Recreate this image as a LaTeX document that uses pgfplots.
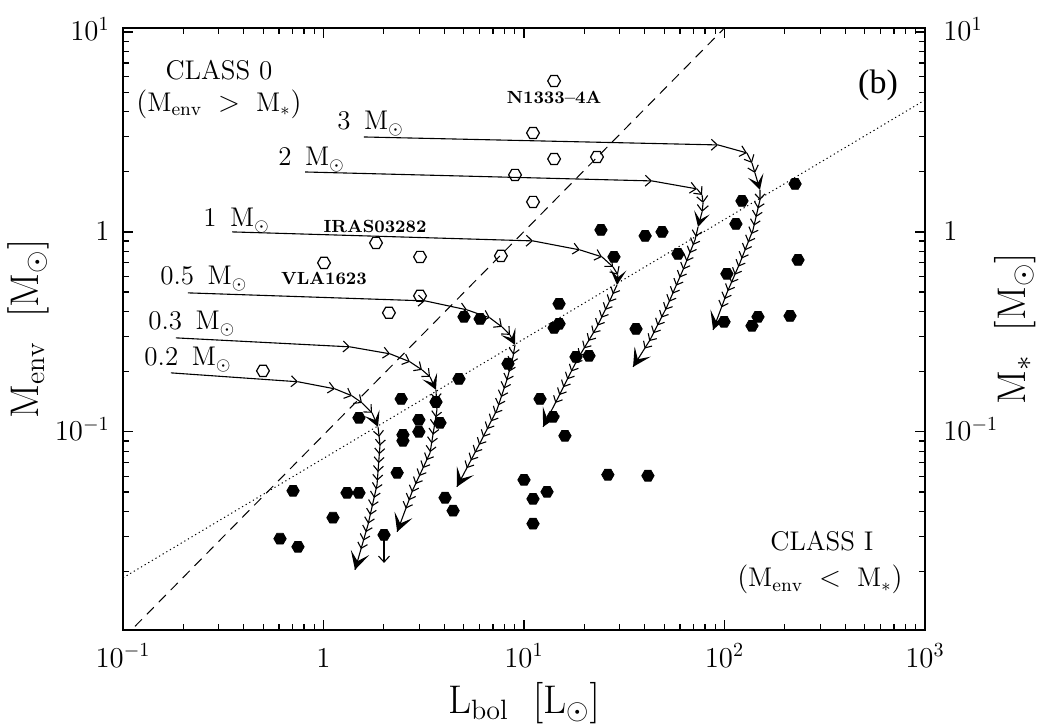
\documentclass[border=0pt]{standalone}
\usepackage{fontspec}
\usepackage{pgfplots}
\pgfplotsset{compat=1.18}
\usetikzlibrary{arrows.meta,decorations.markings}
\newfontfamily\tnr{Liberation Serif}
\newcommand\lab{\fontsize{13.5}{16}\selectfont}
\newcommand\srcfont{\fontsize{8.8}{10}\selectfont\bfseries}

\pgfdeclareplotmark{hexo}{%
 \pgfpathmoveto{\pgfpointpolar{0}{\pgfplotmarksize}}%
 \pgfpathlineto{\pgfpointpolar{60}{\pgfplotmarksize}}%
 \pgfpathlineto{\pgfpointpolar{120}{\pgfplotmarksize}}%
 \pgfpathlineto{\pgfpointpolar{180}{\pgfplotmarksize}}%
 \pgfpathlineto{\pgfpointpolar{240}{\pgfplotmarksize}}%
 \pgfpathlineto{\pgfpointpolar{300}{\pgfplotmarksize}}%
 \pgfpathclose\pgfusepathqstroke}
\pgfdeclareplotmark{hexf}{%
 \pgfpathmoveto{\pgfpointpolar{0}{\pgfplotmarksize}}%
 \pgfpathlineto{\pgfpointpolar{60}{\pgfplotmarksize}}%
 \pgfpathlineto{\pgfpointpolar{120}{\pgfplotmarksize}}%
 \pgfpathlineto{\pgfpointpolar{180}{\pgfplotmarksize}}%
 \pgfpathlineto{\pgfpointpolar{240}{\pgfplotmarksize}}%
 \pgfpathlineto{\pgfpointpolar{300}{\pgfplotmarksize}}%
 \pgfpathclose\pgfusepathqfillstroke}

\tikzset{
 trk/.style={line width=0.55pt, black},
 seg/.style={trk, -{Straight Barb[length=3pt,width=5.5pt]}},
 big/.style={trk, -{Stealth[length=7.5pt,width=8pt,inset=3.8pt]}},
 chev/.style={trk,
   postaction={decorate},
   decoration={markings,
     mark=between positions 5pt and -10pt step 4.4pt with {\arrow{Straight Barb[length=2.6pt,width=5pt]}},
     mark=at position 1 with {\arrow{Stealth[length=9pt,width=9.5pt,inset=4.5pt]}}}},
}

\begin{document}
\begin{tikzpicture}
\useasboundingbox (-61.5pt,-47.5pt) rectangle (460.5pt,315pt);
\begin{axis}[
 at={(0,0)}, anchor=south west,
 width=401pt, height=301pt, scale only axis,
 xmode=log, ymode=log,
 xmin=0.1, xmax=1000, ymin=0.0102, ymax=10.47,
 xtick={0.1,1,10,100,1000},
 xticklabels={$10^{-1}$,$1$,$10^{1}$,$10^{2}$,$10^{3}$},
 ytick={0.1,1,10},
 yticklabels={$10^{-1}$,$1$,$10^{1}$},
 minor xtick={0.2,0.3,0.4,0.5,0.6,0.7,0.8,0.9,2,3,4,5,6,7,8,9,20,30,40,50,60,70,80,90,200,300,400,500,600,700,800,900},
 minor ytick={0.02,0.03,0.04,0.05,0.06,0.07,0.08,0.09,0.2,0.3,0.4,0.5,0.6,0.7,0.8,0.9,2,3,4,5,6,7,8,9},
 major tick length=5pt, minor tick length=3pt,
 tick style={line width=0.6pt, black},
 axis line style={line width=0.7pt},
 tick label style={font=\fontsize{14}{16}\selectfont},
 xticklabel style={anchor=base, yshift=-18.5pt, inner sep=0pt},
 yticklabel style={anchor=base east, yshift=-4.5pt, xshift=-6.5pt, inner sep=0pt},
 label style={font=\fontsize{20}{23}\selectfont},
 xlabel={$\mathrm{L_{bol}}\ \ [\mathrm{L}_\odot]$},
 xlabel style={at={(axis description cs:0.5,-0.139)}, anchor=base},
 ylabel={$\mathrm{M_{env}}\ \ [\mathrm{M}_\odot]$},
 ylabel style={at={(axis description cs:-0.1185,0.5)}, anchor=center},
]
% reference lines
\addplot[black, line width=0.5pt, dash pattern=on 5pt off 3.5pt] coordinates {(0.1,0.00925) (200,21.2)};
\addplot[black, line width=0.5pt, dash pattern=on 0.6pt off 1.5pt] coordinates {(0.1,0.0186) (1000,4.57)};

% track 0.2
\addplot[seg] coordinates {(0.1734,0.1972) (0.746,0.178)};
\addplot[seg] coordinates {(0.746,0.178) (1.141,0.164)};
\addplot[seg] coordinates {(1.141,0.164) (1.387,0.1514)};
\addplot[seg] coordinates {(1.387,0.1514) (1.556,0.1396)};
\addplot[seg] coordinates {(1.556,0.1396) (1.746,0.1245)};
\addplot[big] coordinates {(1.746,0.1245) (1.871,0.1059)};
\addplot[chev] coordinates {(1.871,0.1059) (1.914,0.0861) (1.849,0.0543) (1.667,0.0343) (1.436,0.0204)};
% track 0.3
\addplot[seg] coordinates {(0.1837,0.2951) (1.355,0.2661)};
\addplot[seg] coordinates {(1.355,0.2661) (2.148,0.2455)};
\addplot[seg] coordinates {(2.148,0.2455) (2.70,0.2239)};
\addplot[seg] coordinates {(2.70,0.2239) (3.10,0.2042)};
\addplot[seg] coordinates {(3.10,0.2042) (3.40,0.1884)};
\addplot[big] coordinates {(3.40,0.1884) (3.64,0.1622)};
\addplot[chev] coordinates {(3.64,0.1622) (3.68,0.1288) (3.40,0.0785) (2.79,0.0513) (2.33,0.0316)};
% track 0.5
\addplot[seg] coordinates {(0.2109,0.4955) (3.21,0.4519)};
\addplot[seg] coordinates {(3.21,0.4519) (5.20,0.4074)};
\addplot[seg] coordinates {(5.20,0.4074) (6.76,0.3715)};
\addplot[seg] coordinates {(6.76,0.3715) (7.76,0.335)};
\addplot[seg] coordinates {(7.76,0.335) (8.51,0.3055)};
\addplot[big] coordinates {(8.51,0.3055) (9.02,0.2723)};
\addplot[chev] coordinates {(9.02,0.2723) (8.81,0.237) (8.22,0.182) (7.33,0.1288) (6.04,0.0881) (4.63,0.0531)};
% track 1
\addplot[seg] coordinates {(0.350,1.0) (11.09,0.9016)};
\addplot[seg] coordinates {(11.09,0.9016) (19.0,0.8128)};
\addplot[seg] coordinates {(19.0,0.8128) (24.5,0.750)};
\addplot[seg] coordinates {(24.5,0.750) (27.8,0.668)};
\addplot[seg] coordinates {(27.8,0.668) (29.4,0.610)};
\addplot[big] coordinates {(29.4,0.610) (29.1,0.543)};
\addplot[chev] coordinates {(29.1,0.543) (26.9,0.457) (23.1,0.335) (18.4,0.229) (14.6,0.1445) (12.45,0.1059)};
% track 2
\addplot[seg] coordinates {(0.809,1.995) (43.5,1.799)};
\addplot[seg] coordinates {(43.5,1.799) (72.9,1.641)};
\addplot[seg] coordinates {(72.9,1.641) (77.3,1.531)};
\addplot[seg] coordinates {(77.3,1.531) (78.2,1.396)};
\addplot[seg] coordinates {(78.2,1.396) (77.3,1.259)};
\addplot[big] coordinates {(77.3,1.259) (73.8,1.059)};
\addplot[chev] coordinates {(73.8,1.059) (71.3,0.912) (62.1,0.646) (51.6,0.422) (42.5,0.288) (35.0,0.2113)};
% track 3
\addplot[seg] coordinates {(1.592,2.985) (92.9,2.723)};
\addplot[seg] coordinates {(92.9,2.723) (129.4,2.483)};
\addplot[seg] coordinates {(129.4,2.483) (137.1,2.213)};
\addplot[seg] coordinates {(137.1,2.213) (141.9,1.972)};
\addplot[big] coordinates {(141.9,1.972) (150.3,1.622)};
\addplot[chev] coordinates {(150.3,1.622) (150.3,1.445) (138.7,1.023) (119.4,0.700) (102.8,0.4955) (87.7,0.3236)};

% upper limit
\addplot[seg] coordinates {(2.004,0.0305) (2.004,0.0221)};

% Class 0 (open)
\addplot[only marks, mark=hexo, mark size=3.2pt, mark options={line width=0.6pt, black}] coordinates {
(14.13,5.69) (11.09,3.126) (14.13,2.317) (23.12,2.371) (9.02,1.928) (11.09,1.413)
(1.828,0.881) (3.03,0.750) (7.67,0.759) (1.006,0.700) (3.03,0.479) (2.12,0.394) (0.499,0.2018)};

% Class I (filled)
\addplot[only marks, mark=hexf, mark size=3.1pt, mark options={line width=0.4pt, black, fill=black}] coordinates {
(224.9,1.738) (122.2,1.429) (114.0,1.096) (24.2,1.023) (40.2,0.955) (48.8,1.0)
(58.6,0.776) (102.8,0.617) (232.7,0.724) (99.5,0.355) (146.9,0.376) (137.1,0.339)
(212.3,0.380) (28.1,0.750) (14.96,0.437) (5.02,0.376) (6.04,0.367) (14.96,0.347)
(14.13,0.331) (36.2,0.327) (18.17,0.237) (21.1,0.240) (8.32,0.219) (4.74,0.184)
(12.02,0.146) (13.96,0.1189) (16.0,0.0955) (2.44,0.146) (3.64,0.141) (1.503,0.1175)
(2.99,0.1148) (3.81,0.1109) (2.99,0.100) (2.49,0.0966) (2.49,0.0902) (2.33,0.0624)
(0.705,0.0507) (1.31,0.0495) (1.503,0.0495) (1.115,0.0372) (0.607,0.0292) (0.746,0.0266)
(2.004,0.0305) (4.04,0.0468) (4.43,0.0403) (10.0,0.0575) (11.09,0.0462) (11.09,0.0347)
(13.03,0.0501) (26.2,0.0610) (41.5,0.0603)};

% texts
\node[font=\lab] at (axis cs:0.301,6.46) {CLASS 0};
\node[font=\lab] at (axis cs:0.301,4.365) {$(\mathrm{M_{env}}\;>\;\mathrm{M}_*)$};
\node[font=\lab] at (axis cs:306,0.0285) {CLASS I};
\node[font=\lab] at (axis cs:299,0.0182) {$(\mathrm{M_{env}}\;<\;\mathrm{M}_*)$};
\node[font=\fontsize{17}{19}\selectfont\tnr] at (axis cs:583,5.43) {(b)};
\node[font=\srcfont] at (axis cs:14.13,4.68) {N1333--4A};
\node[font=\srcfont] at (axis cs:1.807,1.059) {IRAS03282};
\node[font=\srcfont] at (axis cs:1.006,0.582) {VLA1623};
\node[font=\lab, anchor=base west, inner sep=0pt] at (axis cs:1.167,3.236) {3\enspace M$_\odot$};
\node[font=\lab, anchor=base west, inner sep=0pt] at (axis cs:0.593,2.138) {2\enspace M$_\odot$};
\node[font=\lab, anchor=base west, inner sep=0pt] at (axis cs:0.2506,1.059) {1\enspace M$_\odot$};
\node[font=\lab, anchor=base west, inner sep=0pt] at (axis cs:0.1529,0.543) {0.5\enspace M$_\odot$};
\node[font=\lab, anchor=base west, inner sep=0pt] at (axis cs:0.1333,0.3236) {0.3\enspace M$_\odot$};
\node[font=\lab, anchor=base west, inner sep=0pt] at (axis cs:0.1274,0.2138) {0.2\enspace M$_\odot$};
\end{axis}

\begin{axis}[
 at={(0,0)}, anchor=south west,
 width=401pt, height=301pt, scale only axis,
 xmode=log, ymode=log,
 xmin=0.1, xmax=1000, ymin=0.0102, ymax=10.47,
 hide x axis,
 axis line style={draw=none},
 tick style={draw=none},
 ytick={0.1,1,10},
 yticklabels={$10^{-1}$,$1$,$10^{1}$},
 yticklabel pos=right,
 tick label style={font=\fontsize{14}{16}\selectfont},
 yticklabel style={anchor=base west, yshift=-4.5pt, xshift=9pt, inner sep=0pt},
 label style={font=\fontsize{20}{23}\selectfont},
 ylabel={$\mathrm{M}_*\ \ [\mathrm{M}_\odot]$},
 ylabel style={at={(axis description cs:1.112,0.5)}, anchor=center},
]
\addplot[draw=none] coordinates {(1,1)};
\end{axis}
\end{tikzpicture}
\end{document}
